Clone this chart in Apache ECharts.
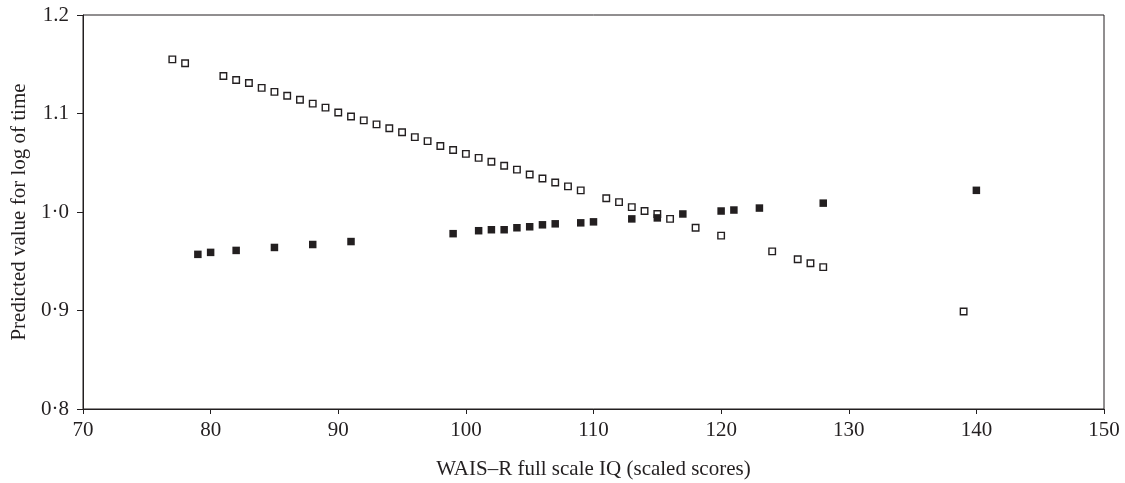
<!DOCTYPE html>
<html>
<head>
<meta charset="utf-8">
<script src="https://cdn.jsdelivr.net/npm/echarts@6/dist/echarts.min.js"></script>
<style>
html,body{margin:0;padding:0;background:#fff;}
#chart{width:1125px;height:483px;}
</style>
</head>
<body>
<div id="chart"></div>
<script>
// Open squares series
const openX = [77,78,81,82,83,84,85,86,87,88,89,90,91,92,93,94,95,96,97,98,99,100,101,102,103,104,105,106,107,108,109,111,112,113,114,115,116,118,120,124,126,127,128,139];
const openY = [1.155,1.151,1.138,1.134,1.131,1.126,1.122,1.118,1.114,1.110,1.106,1.101,1.097,1.093,1.089,1.085,1.081,1.076,1.072,1.067,1.063,1.059,1.055,1.051,1.047,1.043,1.038,1.034,1.030,1.026,1.022,1.014,1.010,1.005,1.001,0.998,0.993,0.984,0.976,0.960,0.952,0.948,0.944,0.899];
// Filled squares series
const filledX = [79,80,82,85,88,91,99,101,102,103,104,105,106,107,109,110,113,115,117,120,121,123,128,140];
const filledY = [0.957,0.959,0.961,0.964,0.967,0.970,0.978,0.981,0.982,0.982,0.984,0.985,0.987,0.988,0.989,0.990,0.993,0.994,0.998,1.001,1.002,1.004,1.009,1.022];
// Axis tick labels
const xTickLabels = ['70','80','90','100','110','120','130','140','150'];
const yTickLabels = ['0·8','0·9','1·0','1.1','1.2'];

const xTitle = 'WAIS\u2013R full scale IQ (scaled scores)';
const yTitle = 'Predicted value for log of time';

const ink = '#231f20';
const font = 'Liberation Serif';
const fs = 21;

const chart = echarts.init(document.getElementById('chart'), null, {renderer:'canvas'});
chart.setOption({
  animation:false,
  backgroundColor:'#fff',
  grid:{left:83, right:21, top:15, bottom:74, containLabel:false, outerBoundsMode:'none',
        show:true, borderColor:ink, borderWidth:1},
  xAxis:{
    type:'value', min:70, max:150, interval:10,
    name:xTitle, nameLocation:'middle', nameGap:50,
    nameTextStyle:{fontFamily:font, fontSize:fs, color:ink},
    axisLine:{show:true, lineStyle:{color:ink, width:1}},
    axisTick:{show:true, inside:false, length:5, lineStyle:{color:ink}},
    axisLabel:{fontFamily:font, fontSize:fs, color:ink, margin:11,
      formatter:(v)=>{const i=Math.round((v-70)/10); return xTickLabels[i]!==undefined?xTickLabels[i]:'';}},
    splitLine:{show:false}
  },
  yAxis:{
    type:'value', min:0.8, max:1.2, interval:0.1,
    name:yTitle, nameLocation:'middle', nameGap:46, nameRotate:90,
    nameTextStyle:{fontFamily:font, fontSize:fs, color:ink},
    axisLine:{show:true, lineStyle:{color:ink, width:1}},
    axisTick:{show:true, inside:false, length:6, lineStyle:{color:ink}},
    axisLabel:{fontFamily:font, fontSize:fs, color:ink, margin:14,
      formatter:(v)=>{const i=Math.round((v-0.8)/0.1); return yTickLabels[i]!==undefined?yTickLabels[i]:'';}},
    splitLine:{show:false}
  },
  series:[
    {
      type:'scatter', name:'open',
      data:openX.map((x,i)=>[x,openY[i]]),
      symbol:'rect', symbolSize:6.5,
      itemStyle:{color:'#fff', borderColor:ink, borderWidth:1.4, opacity:1},
      z:2
    },
    {
      type:'scatter', name:'filled',
      data:filledX.map((x,i)=>[x,filledY[i]]),
      symbol:'rect', symbolSize:7.5,
      itemStyle:{color:ink, borderColor:ink, borderWidth:0, opacity:1},
      z:3
    }
  ]
});
</script>
</body>
</html>
